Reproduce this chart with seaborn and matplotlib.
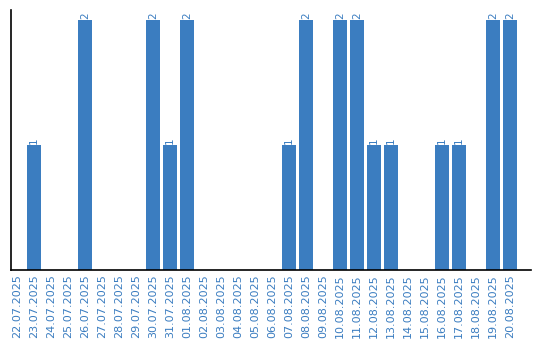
import matplotlib
matplotlib.use("Agg")
import matplotlib.pyplot as plt
import seaborn as sns
import pandas as pd

dates = ["22.07.2025", "23.07.2025", "24.07.2025", "25.07.2025", "26.07.2025",
         "27.07.2025", "28.07.2025", "29.07.2025", "30.07.2025", "31.07.2025",
         "01.08.2025", "02.08.2025", "03.08.2025", "04.08.2025", "05.08.2025",
         "06.08.2025", "07.08.2025", "08.08.2025", "09.08.2025", "10.08.2025",
         "11.08.2025", "12.08.2025", "13.08.2025", "14.08.2025", "15.08.2025",
         "16.08.2025", "17.08.2025", "18.08.2025", "19.08.2025", "20.08.2025"]
counts = [0, 1, 0, 0, 2, 0, 0, 0, 2, 1,
          2, 0, 0, 0, 0, 0, 1, 2, 0, 2,
          2, 1, 1, 0, 0, 1, 1, 0, 2, 2]

color = "#3b7dc0"
df = pd.DataFrame({"date": dates, "count": counts})

sns.set_style("white")
fig = plt.figure(figsize=(5.4, 3.4), dpi=100)
ax = fig.add_axes([11/540, 70/340, 520/540, 260/340])
sns.barplot(data=df, x="date", y="count", color=color, saturation=1, width=0.84,
            linewidth=0, ax=ax)

for i, v in enumerate(counts):
    if v > 0:
        ax.text(i, v + 0.012, str(v), rotation=90, ha="center", va="bottom",
                color=color, fontsize=7.5)

ax.set_xlim(-0.35, 30.24)
ax.set_ylim(0, 2.08)
ax.set_xlabel("")
ax.set_ylabel("")
ax.set_yticks([])
ax.tick_params(axis="x", length=0, pad=3, labelsize=8, labelcolor=color)
plt.setp(ax.get_xticklabels(), rotation=90)
for s in ["top", "right"]:
    ax.spines[s].set_visible(False)
for s in ["left", "bottom"]:
    ax.spines[s].set_color("black")
    ax.spines[s].set_linewidth(1.2)

fig.savefig("out.png", dpi=100)
